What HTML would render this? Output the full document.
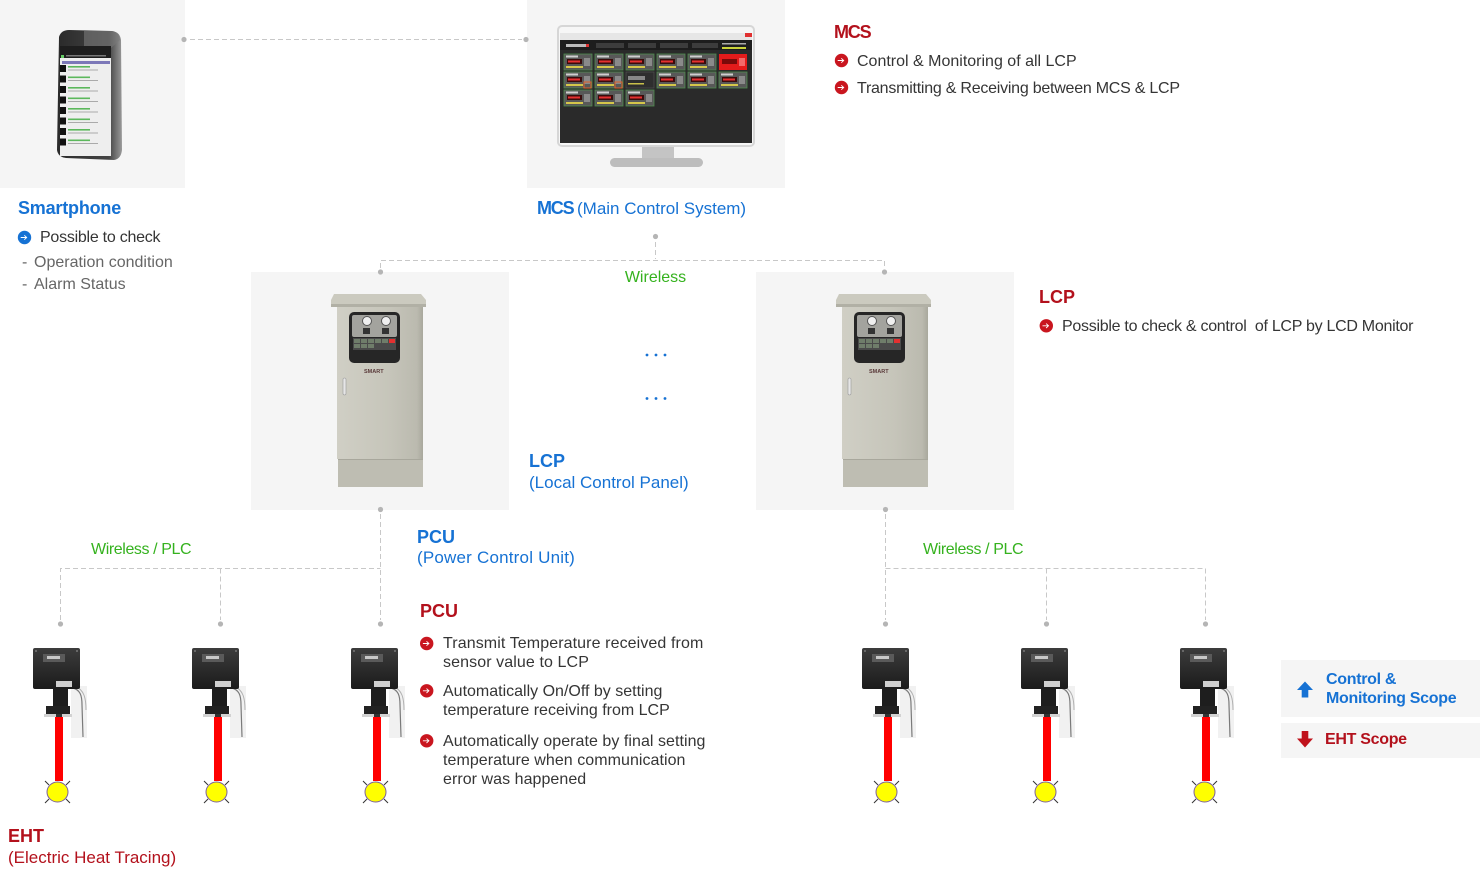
<!DOCTYPE html>
<html><head><meta charset="utf-8">
<style>
html,body{margin:0;padding:0;}
body{width:1480px;height:872px;position:relative;overflow:hidden;background:#fff;font-family:"Liberation Sans",sans-serif;}
svg{position:absolute;left:0;top:0;}
.t{position:absolute;white-space:nowrap;}
.h{font-size:18px;font-weight:bold;line-height:21px;}
.p{font-size:17px;line-height:20px;}
.b{font-size:16px;line-height:19px;color:#353535;}
.lg{font-size:16px;line-height:19px;font-weight:bold;letter-spacing:-0.3px;}
.blue{color:#1672d4;}
.red{color:#b3111c;}
.green{color:#35b21e;font-size:16px;line-height:19px;}
.g{color:#666;}
</style></head><body>
<svg width="1480" height="872" viewBox="0 0 1480 872" xmlns="http://www.w3.org/2000/svg">
<defs>
 <linearGradient id="cabG" x1="0" y1="0" x2="1" y2="0">
  <stop offset="0" stop-color="#d0cfc5"/><stop offset="0.6" stop-color="#c6c5ba"/><stop offset="0.93" stop-color="#bbbaaf"/><stop offset="1" stop-color="#a9a89d"/>
 </linearGradient>
 <linearGradient id="boxG" x1="0" y1="0" x2="0" y2="1">
  <stop offset="0" stop-color="#3c3c3c"/><stop offset="1" stop-color="#1b1b1b"/>
 </linearGradient>
 <linearGradient id="phG" x1="0" y1="0" x2="1" y2="0">
  <stop offset="0" stop-color="#2a2a2a"/><stop offset="0.8" stop-color="#444"/><stop offset="1" stop-color="#9a9a9a"/>
 </linearGradient>
 <g id="cab">
  <rect x="338" y="458" width="85" height="29" fill="#bebdb2"/>
  <rect x="338" y="458" width="85" height="2" fill="#a8a79c"/>
  <rect x="337" y="306" width="86" height="153" fill="url(#cabG)"/>
  <path d="M331,300 L334,294 L421,294 L426,300 L426,307 L331,307 Z" fill="#cbcabf"/>
  <rect x="331" y="304" width="95" height="3" fill="#b1b0a5"/>
  <rect x="349" y="312" width="51" height="51" rx="5" fill="#262626"/>
  <rect x="352" y="315" width="45" height="22" rx="2" fill="#a3a39e"/>
  <circle cx="367" cy="321" r="4.5" fill="#f0f0f0" stroke="#555" stroke-width="1"/>
  <circle cx="386" cy="321" r="4.5" fill="#f0f0f0" stroke="#555" stroke-width="1"/>
  <rect x="363" y="328" width="7" height="6" fill="#333"/>
  <rect x="382" y="328" width="7" height="6" fill="#333"/>
  <rect x="353" y="338" width="43" height="12" fill="#4a4a4a"/>
  <rect x="354" y="339" width="6" height="4" fill="#6f7d6a"/>
  <rect x="361" y="339" width="6" height="4" fill="#6f7d6a"/>
  <rect x="368" y="339" width="6" height="4" fill="#6f7d6a"/>
  <rect x="375" y="339" width="6" height="4" fill="#6f7d6a"/>
  <rect x="382" y="339" width="6" height="4" fill="#6f7d6a"/>
  <rect x="389" y="339" width="6" height="4" fill="#e33030"/>
  <rect x="354" y="344" width="6" height="4" fill="#6f7d6a"/>
  <rect x="361" y="344" width="6" height="4" fill="#6f7d6a"/>
  <rect x="368" y="344" width="6" height="4" fill="#6f7d6a"/>
  <text x="364" y="373" font-family="Liberation Sans, sans-serif" font-size="5.5" font-weight="bold" fill="#5a3a3a">SMART</text>
  <rect x="343" y="378" width="3" height="17" rx="1.5" fill="#e6e6e6" stroke="#999" stroke-width="0.6"/>
 </g>
 <g id="dev">
  <path d="M71,686 L87,686 L87,738 L71,738 Z" fill="#f1f1f1"/>
  <path d="M73,688 C80,690 82,695 82,705 L83,737" stroke="#7a7a7a" stroke-width="1.2" fill="none"/>
  <path d="M76,687 C84,690 86,698 86,710" stroke="#b0b0b0" stroke-width="1" fill="none"/>
  <rect x="33" y="648" width="47" height="41" rx="2" fill="url(#boxG)"/>
  <rect x="43" y="654" width="22" height="8" fill="#5a5a5a"/>
  <rect x="47" y="656" width="13" height="3" fill="#c8c8c8"/>
  <rect x="56" y="681" width="16" height="6" fill="#cfcfcf"/>
  <circle cx="36" cy="651" r="1" fill="#777"/>
  <circle cx="77" cy="651" r="1" fill="#777"/>
  <rect x="53" y="689" width="15" height="19" fill="#1e1e1e"/>
  <rect x="46" y="706" width="24" height="9" fill="#222"/>
  <rect x="44" y="714" width="28" height="3" fill="#d2d2d2"/>
  <rect x="56" y="714" width="6" height="4" fill="#333"/>
  <rect x="55" y="717" width="8" height="64" fill="#ff0000"/>
  <ellipse cx="57.5" cy="792" rx="10.5" ry="10" fill="#ffff00" stroke="#7a60a0" stroke-width="1"/>
  <path d="M45,781 L49,785 M70,781 L66,785 M45,803 L49,799 M70,803 L66,799" stroke="#333" stroke-width="1"/>
 </g>
 <g id="cell">
  <rect x="0" y="0" width="28" height="16" fill="#585858" stroke="#4e8c4e" stroke-width="0.8"/>
  <rect x="2" y="1.5" width="12" height="2" fill="#cfcfcf"/>
  <rect x="3" y="5" width="15" height="5" fill="#3a0c0c"/>
  <rect x="4" y="6.5" width="12" height="2" fill="#e53030"/>
  <rect x="20" y="4" width="6" height="8" fill="#8a8a8a"/>
  <rect x="2" y="12" width="17" height="2" fill="#d4c64a"/>
 </g>
 <g id="bR"><circle r="6.7" fill="#c9161f"/><path d="M-3.8,0H1.8M-0.2,-2.2L2.2,0L-0.2,2.2" stroke="#fff" stroke-width="0.9" fill="none"/></g>
 <g id="bB"><circle r="6.7" fill="#1672d4"/><path d="M-3.8,0H1.8M-0.2,-2.2L2.2,0L-0.2,2.2" stroke="#fff" stroke-width="0.9" fill="none"/></g>
</defs>

<!-- backgrounds -->
<rect x="0" y="0" width="185" height="188" fill="#f5f5f5"/>
<rect x="527" y="0" width="258" height="188" fill="#f5f5f5"/>
<rect x="251" y="272" width="258" height="238" fill="#f5f5f5"/>
<rect x="756" y="272" width="258" height="238" fill="#f5f5f5"/>
<rect x="1281" y="660" width="199" height="57" fill="#f5f5f5"/>
<rect x="1281" y="723" width="199" height="35" fill="#f5f5f5"/>

<!-- phone -->
<path d="M59,37 Q61,30 69,30 L112,31 Q120,32 121,40 L122,150 Q121,159 114,160 L66,158 Q58,157 57,150 Z" fill="url(#phG)"/>
<path d="M84,31 L112,31 Q119,32 120,40 L111,48 L84,48 Z" fill="#7a7a7a" opacity="0.6"/>
<rect x="60" y="46" width="51" height="12" fill="#1e1e1e"/>
<rect x="61" y="55" width="3" height="3" fill="#6c6"/>
<rect x="66" y="55" width="40" height="1.5" fill="#777"/>
<rect x="60" y="58" width="51" height="98" fill="#eeeeee"/>
<rect x="62" y="61" width="48" height="3" fill="#7c78b8"/>
<g fill="#111">
 <rect x="60" y="65" width="6" height="7"/><rect x="60" y="75.5" width="6" height="7"/><rect x="60" y="86" width="6" height="7"/><rect x="60" y="96.5" width="6" height="7"/>
 <rect x="60" y="107" width="6" height="7"/><rect x="60" y="117.5" width="6" height="7"/><rect x="60" y="128" width="6" height="7"/><rect x="60" y="138.5" width="6" height="7"/>
</g>
<g fill="#5cb85c">
 <rect x="68" y="66" width="22" height="1.6"/><rect x="68" y="76.5" width="22" height="1.6"/><rect x="68" y="87" width="22" height="1.6"/><rect x="68" y="97.5" width="22" height="1.6"/>
 <rect x="68" y="108" width="22" height="1.6"/><rect x="68" y="118.5" width="22" height="1.6"/><rect x="68" y="129" width="22" height="1.6"/><rect x="68" y="139.5" width="22" height="1.6"/>
</g>
<g fill="#aaa">
 <rect x="68" y="69.5" width="30" height="1"/><rect x="68" y="80" width="30" height="1"/><rect x="68" y="90.5" width="30" height="1"/><rect x="68" y="101" width="30" height="1"/>
 <rect x="68" y="111.5" width="30" height="1"/><rect x="68" y="122" width="30" height="1"/><rect x="68" y="132.5" width="30" height="1"/><rect x="68" y="143" width="30" height="1"/>
</g>

<!-- monitor -->
<rect x="557" y="25" width="198" height="122" rx="5" fill="#d6d6d6"/>
<rect x="559" y="27" width="194" height="118" rx="3" fill="#f6f6f6"/>
<rect x="560" y="33" width="192" height="110" fill="#2a2a2a"/>
<rect x="560" y="33" width="192" height="7" fill="#e6e6e6"/>
<rect x="745" y="33" width="7" height="4" fill="#e03030"/>
<rect x="560" y="40" width="192" height="10" fill="#1d1d1d"/>
<rect x="566" y="44" width="22" height="3" fill="#bbb"/>
<rect x="586" y="44" width="3" height="3" fill="#d33"/>
<rect x="596" y="43" width="28" height="5" fill="#3c3c3c"/>
<rect x="628" y="43" width="28" height="5" fill="#3c3c3c"/>
<rect x="660" y="43" width="28" height="5" fill="#3c3c3c"/>
<rect x="692" y="43" width="26" height="5" fill="#3c3c3c"/>
<rect x="722" y="43" width="24" height="1.5" fill="#aaa"/>
<rect x="722" y="47" width="24" height="2" fill="#c9d23a"/>
<use href="#cell" transform="translate(564,54)"/>
<use href="#cell" transform="translate(595,54)"/>
<use href="#cell" transform="translate(626,54)"/>
<use href="#cell" transform="translate(657,54)"/>
<use href="#cell" transform="translate(688,54)"/>
<rect x="719" y="54" width="28" height="16" fill="#e41b1b"/>
<rect x="722" y="59" width="15" height="5" fill="#7a0a0a"/>
<rect x="739" y="58" width="6" height="8" fill="#f26a6a"/>
<use href="#cell" transform="translate(564,72)"/>
<use href="#cell" transform="translate(595,72)"/>
<rect x="584" y="82" width="7" height="6" fill="none" stroke="#e0602a" stroke-width="1"/>
<rect x="615" y="82" width="7" height="6" fill="none" stroke="#e0602a" stroke-width="1"/>
<rect x="626" y="72" width="28" height="16" fill="#2e2e2e" stroke="#555" stroke-width="0.6"/>
<rect x="628" y="76" width="17" height="4" fill="#888"/>
<rect x="628" y="83" width="16" height="1.5" fill="#c9c04a"/>
<use href="#cell" transform="translate(657,72)"/>
<use href="#cell" transform="translate(688,72)"/>
<use href="#cell" transform="translate(719,72)"/>
<use href="#cell" transform="translate(564,90)"/>
<use href="#cell" transform="translate(595,90)"/>
<use href="#cell" transform="translate(626,90)"/>
<rect x="642" y="147" width="32" height="13" fill="#c4c4c4"/>
<rect x="610" y="158" width="93" height="9" rx="4.5" fill="#bdbdbd"/>

<!-- cabinets -->
<use href="#cab"/>
<use href="#cab" transform="translate(505,0)"/>

<!-- devices -->
<use href="#dev"/>
<use href="#dev" transform="translate(159,0)"/>
<use href="#dev" transform="translate(318,0)"/>
<use href="#dev" transform="translate(829,0)"/>
<use href="#dev" transform="translate(988,0)"/>
<use href="#dev" transform="translate(1147,0)"/>

<!-- connectors -->
<g stroke="#c8c8c8" stroke-width="1" stroke-dasharray="5 3" fill="none">
 <path d="M190,39.5 H522"/>
 <path d="M655.5,242 V259"/>
 <path d="M380.5,268 V260.5 H884.5 V268"/>
 <path d="M380.5,514 V620"/>
 <path d="M60.5,620 V568.5 H380.5"/>
 <path d="M220.5,568.5 V620"/>
 <path d="M885.5,514 V620"/>
 <path d="M885.5,568.5 H1205.5 V620"/>
 <path d="M1046.5,568.5 V620"/>
</g>
<g fill="#b5b5b5">
 <circle cx="184" cy="39.5" r="2.6"/><circle cx="526" cy="39.5" r="2.6"/>
 <circle cx="655.5" cy="236.5" r="2.6"/>
 <circle cx="380.5" cy="272" r="2.6"/><circle cx="884.5" cy="272" r="2.6"/>
 <circle cx="380.5" cy="509.5" r="2.6"/><circle cx="885.5" cy="509.5" r="2.6"/>
 <circle cx="60.5" cy="624" r="2.6"/><circle cx="220.5" cy="624" r="2.6"/><circle cx="380.5" cy="624" r="2.6"/>
 <circle cx="885.5" cy="624" r="2.6"/><circle cx="1046.5" cy="624" r="2.6"/><circle cx="1205.5" cy="624" r="2.6"/>
</g>

<!-- blue ellipsis dots -->
<g fill="#1672d4">
 <circle cx="647" cy="355" r="1.4"/><circle cx="656" cy="355" r="1.4"/><circle cx="665" cy="355" r="1.4"/>
 <circle cx="647" cy="398.5" r="1.4"/><circle cx="656" cy="398.5" r="1.4"/><circle cx="665" cy="398.5" r="1.4"/>
</g>

<!-- bullets -->
<use href="#bB" transform="translate(24.5,237.5)"/>
<use href="#bR" transform="translate(841.5,60.5)"/>
<use href="#bR" transform="translate(841.5,87.5)"/>
<use href="#bR" transform="translate(1046.3,325.8)"/>
<use href="#bR" transform="translate(426.7,643.5)"/>
<use href="#bR" transform="translate(426.7,690.8)"/>
<use href="#bR" transform="translate(426.7,740.8)"/>

<!-- legend arrows -->
<path d="M1297,690 L1305,681.5 L1313,690 L1308.3,690 L1308.3,697.5 L1301.7,697.5 L1301.7,690 Z" fill="#1672d4"/>
<path d="M1301.7,731 L1308.3,731 L1308.3,738.5 L1313,738.5 L1305,747.5 L1297,738.5 L1301.7,738.5 Z" fill="#c0121c"/>
</svg>

<!-- texts -->
<div class="t h blue" style="left:18px;top:197.5px;letter-spacing:-0.2px;">Smartphone</div>
<div class="t b" style="left:40px;top:228px;letter-spacing:-0.25px;">Possible to check</div>
<div class="t b g" style="left:22px;top:253px;">-</div>
<div class="t b g" style="left:34px;top:253px;">Operation condition</div>
<div class="t b g" style="left:22px;top:275px;">-</div>
<div class="t b g" style="left:34px;top:275px;">Alarm Status</div>

<div class="t h blue" style="left:537px;top:198px;letter-spacing:-1.2px;">MCS</div>
<div class="t p blue" style="left:577px;top:198.7px;">(Main Control System)</div>

<div class="t h red" style="left:834px;top:22px;letter-spacing:-1.2px;">MCS</div>
<div class="t b" style="left:857px;top:51.5px;">Control &amp; Monitoring of all LCP</div>
<div class="t b" style="left:857px;top:79px;letter-spacing:-0.24px;">Transmitting &amp; Receiving between MCS &amp; LCP</div>

<div class="t green" style="left:600px;top:267.5px;width:111px;text-align:center;">Wireless</div>

<div class="t h red" style="left:1039px;top:287px;">LCP</div>
<div class="t b" style="left:1062px;top:316.5px;letter-spacing:-0.28px;">Possible to check &amp; control&nbsp; of LCP by LCD Monitor</div>

<div class="t h blue" style="left:529px;top:451px;">LCP</div>
<div class="t p blue" style="left:529px;top:473px;">(Local Control Panel)</div>

<div class="t green" style="left:91px;top:540px;letter-spacing:-0.4px;">Wireless / PLC</div>
<div class="t green" style="left:923px;top:540px;letter-spacing:-0.4px;">Wireless / PLC</div>

<div class="t h blue" style="left:417px;top:527px;">PCU</div>
<div class="t p blue" style="left:417px;top:548px;letter-spacing:0.2px;">(Power Control Unit)</div>

<div class="t h red" style="left:420px;top:601px;">PCU</div>
<div class="t b" style="left:443px;top:634px;letter-spacing:0.1px;">Transmit Temperature received from<br>sensor value to LCP</div>
<div class="t b" style="left:443px;top:681.5px;">Automatically On/Off by setting<br>temperature receiving from LCP</div>
<div class="t b" style="left:443px;top:731.5px;letter-spacing:0.05px;">Automatically operate by final setting<br>temperature when communication<br>error was happened</div>

<div class="t h red" style="left:8px;top:826px;">EHT</div>
<div class="t p red" style="left:8px;top:847.5px;">(Electric Heat Tracing)</div>

<div class="t lg blue" style="left:1326px;top:669.5px;">Control &amp;<br>Monitoring Scope</div>
<div class="t lg red" style="left:1325px;top:730px;">EHT Scope</div>
</body></html>
